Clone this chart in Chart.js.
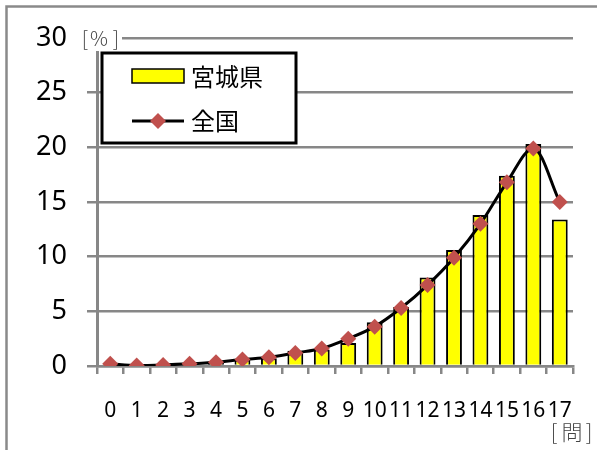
<!DOCTYPE html>
<html>
<head>
<meta charset="utf-8">
<script src="https://cdn.jsdelivr.net/npm/chart.js@4/dist/chart.umd.min.js"></script>
<style>
  html, body { margin: 0; padding: 0; background: #fff; }
  #wrap { width: 597px; height: 450px; position: relative; }
</style>
</head>
<body>
<div id="wrap"><canvas id="c" width="597" height="450"></canvas></div>
<script>
// Question counts (number of correct answers) along the x axis
const categories = ['0','1','2','3','4','5','6','7','8','9','10','11','12','13','14','15','16','17'];
// Share of students (%) per score – Miyagi prefecture
const miyagi = [0.1, 0.05, 0.1, 0.2, 0.3, 0.6, 0.7, 1.4, 1.5, 2.1, 4.0, 5.4, 8.1, 10.6, 13.8, 17.4, 20.3, 13.4];
// Share of students (%) per score – national
const national = [0.2, 0.05, 0.1, 0.2, 0.35, 0.6, 0.8, 1.2, 1.6, 2.5, 3.6, 5.3, 7.4, 9.9, 13.0, 16.8, 19.9, 15.0];
// Y axis ticks
const yTicks = [0, 5, 10, 15, 20, 25, 30];

const seriesNames = ['宮城県', '全国'];
const GRID = '#878787';
const MARKER = '#C0504D';
const CJK = '"Noto Sans CJK JP", "Noto Sans", sans-serif';

// draws bracketed unit text with each glyph centred at its own x
function unitLabel(ctx, parts, xs, y) {
  parts.forEach((p, i) => ctx.fillText(p, xs[i], y));
}

const decorations = {
  id: 'decorations',
  afterDraw(chart) {
    const ctx = chart.ctx;
    ctx.save();

    // outer frame of the chart
    ctx.strokeStyle = '#8a8a8a';
    ctx.lineWidth = 2.5;
    ctx.strokeRect(6.5, 6.5, 700, 600);

    // unit label of the value axis, masking the top of the axis
    ctx.fillStyle = '#fff';
    ctx.fillRect(72, 26, 50, 25);
    ctx.fillStyle = '#444';
    ctx.textBaseline = 'middle';
    ctx.textAlign = 'center';
    ctx.font = '300 20px ' + CJK;
    unitLabel(ctx, ['[', '%', ']'], [85, 99, 116], 38);

    // unit label of the category axis
    ctx.font = '300 21px ' + CJK;
    unitLabel(ctx, ['[', '問', ']'], [554, 572, 589], 432);

    // legend box
    const bx = 102, by = 53, bw = 194, bh = 90;
    ctx.fillStyle = '#fff';
    ctx.fillRect(bx, by, bw, bh);
    ctx.strokeStyle = '#000';
    ctx.lineWidth = 3;
    ctx.strokeRect(bx, by, bw, bh);

    // bar entry
    ctx.fillStyle = '#FFFF00';
    ctx.fillRect(132, 69, 52, 14);
    ctx.lineWidth = 1.5;
    ctx.strokeRect(132, 69, 52, 14);

    // line entry
    ctx.beginPath();
    ctx.moveTo(132, 121);
    ctx.lineTo(184, 121);
    ctx.lineWidth = 3;
    ctx.stroke();
    ctx.fillStyle = MARKER;
    ctx.beginPath();
    ctx.moveTo(158, 113);
    ctx.lineTo(166, 121);
    ctx.lineTo(158, 129);
    ctx.lineTo(150, 121);
    ctx.closePath();
    ctx.fill();

    ctx.fillStyle = '#000';
    ctx.textAlign = 'left';
    ctx.font = '24px ' + CJK;
    ctx.fillText(seriesNames[0], 191, 77);
    ctx.fillText(seriesNames[1], 191, 121);

    ctx.restore();
  }
};

new Chart(document.getElementById('c'), {
  data: {
    labels: categories,
    datasets: [
      {
        type: 'line',
        label: seriesNames[1],
        data: national,
        order: 0,
        borderColor: '#000',
        borderWidth: 3,
        cubicInterpolationMode: 'monotone',
        pointStyle: 'rectRot',
        pointRadius: 8,
        pointBackgroundColor: MARKER,
        pointBorderColor: MARKER,
        pointBorderWidth: 0
      },
      {
        type: 'bar',
        label: seriesNames[0],
        data: miyagi,
        order: 1,
        backgroundColor: '#FFFF00',
        borderColor: '#000',
        borderWidth: 2,
        barPercentage: 0.6,
        categoryPercentage: 1.0
      }
    ]
  },
  options: {
    responsive: false,
    devicePixelRatio: 1,
    animation: false,
    layout: { padding: { left: 0, right: 24, top: 38, bottom: 0 } },
    plugins: {
      legend: { display: false },
      tooltip: { enabled: false }
    },
    scales: {
      x: {
        offset: true,
        grid: {
          offset: true,
          drawOnChartArea: false,
          drawTicks: true,
          tickLength: 8,
          color: GRID,
          lineWidth: 2.5
        },
        border: { display: true, color: GRID, width: 2.5 },
        ticks: {
          autoSkip: false,
          maxRotation: 0,
          minRotation: 0,
          padding: 24,
          color: '#000',
          font: { family: '"Noto Sans", sans-serif', size: 21 }
        },
        afterFit(scale) { scale.height = 84; }
      },
      y: {
        min: 0,
        max: 30,
        afterBuildTicks(scale) { scale.ticks = yTicks.map(v => ({ value: v })); },
        grid: {
          color: GRID,
          lineWidth: 2.5,
          drawTicks: true,
          tickLength: 10
        },
        border: { display: true, color: GRID, width: 3 },
        ticks: {
          padding: 20,
          color: '#000',
          font: { family: '"Noto Sans", sans-serif', size: 27 }
        },
        afterFit(scale) { scale.width = 97; }
      }
    }
  },
  plugins: [decorations]
});
</script>
</body>
</html>
